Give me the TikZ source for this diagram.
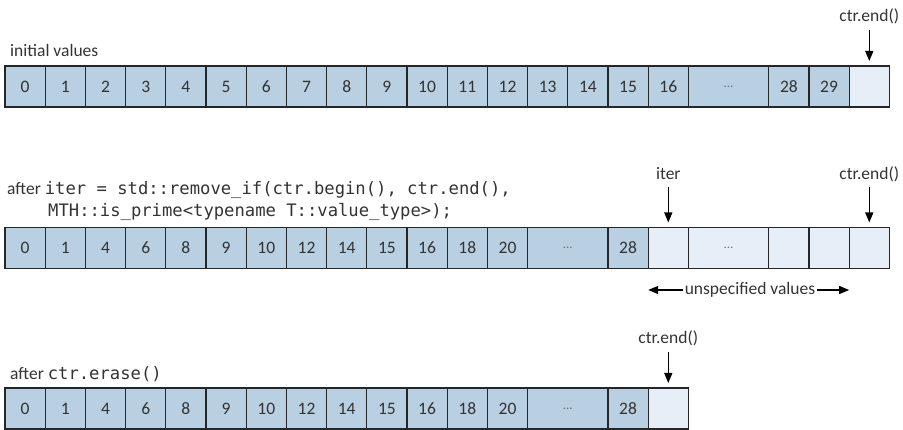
\documentclass[tikz,border=0pt]{standalone}
\usepackage{fontspec}
\setmainfont{Carlito}
\newfontfamily\codefont{DejaVu Sans Mono}
\usetikzlibrary{positioning,arrows.meta}

\definecolor{cellblue}{HTML}{B9CFE2}
\definecolor{cellfree}{HTML}{E6EEF8}
\newcommand\code[1]{{\codefont\fontsize{17.2}{22}\selectfont #1}}
\newcommand\celldots{{\color{black!55}\fontsize{13}{13}\selectfont ...}}

\begin{document}
\begin{tikzpicture}
                [
                x=1pt, y=1pt,
                every node/.style={font=\fontsize{17.5}{22}\selectfont, text=black!80},
                cell/.style={draw=black!85, line width=1.3pt, fill=cellblue, minimum width=40.2pt, minimum height=41pt, inner sep=0pt, outer sep=0pt},
                freecell/.style={cell, fill=cellfree},
                widecell/.style={minimum width=80.4pt},
                lbl/.style={inner sep=0pt, text height=12pt, text depth=4pt},
                pointer/.style={-{Triangle[width=8pt,length=10pt]}, line width=1.3pt, shorten <=4pt, shorten >=5pt}
                ]
                \useasboundingbox (0,0) rectangle (903,430);
                % Row 1: initial values
                \node[lbl, anchor=base west] (initLbl) at (10,373) {initial values};
                \foreach \v [count=\i from 0] in {0,...,16}
                    \node[cell] (a\i) at (25.1+40.2*\i, 343.5) {\v};
                \node[cell, widecell, right=0pt of a16] (a17) {\celldots};
                \node[cell, right=0pt of a17] (a19) {28};
                \node[cell, right=0pt of a19] (a20) {29};
                \node[freecell, right=0pt of a20] (a21) {};
                \node[lbl, above=40pt of a21] (endA) {ctr.end()};
                \draw[pointer] (endA) -- (a21);
                % Row 2: after remove_if
                \node[lbl, anchor=base west] (codeB) at (7,235) {after \code{iter = std::remove\_if(ctr.begin(), ctr.end(),}};
                \node[lbl, anchor=base west] (codeB2) at (48,213) {\code{MTH::is\_prime<typename T::value\_type>);}};
                \foreach \v [count=\i from 0] in {0,1,4,6,8,9,10,12,14,15,16,18,20}
                    \node[cell] (b\i) at (25.1+40.2*\i, 182) {\v};
                \node[cell, widecell, right=0pt of b12] (b13) {\celldots};
                \node[cell, right=0pt of b13] (b15) {28};
                \node[freecell, right=0pt of b15] (b16) {};
                \node[freecell, widecell, right=0pt of b16] (b17) {\celldots};
                \node[freecell, right=0pt of b17] (b19) {};
                \node[freecell, right=0pt of b19] (b20) {};
                \node[freecell, right=0pt of b20] (b21) {};
                \node[lbl, above=44pt of b16] (iterB) {iter};
                \node[lbl, above=44pt of b21] (endB) {ctr.end()};
                \draw[pointer] (iterB) -- (b16);
                \draw[pointer] (endB) -- (b21);
                % unspecified range
                \node[inner sep=2pt] (unspec) at (750,140) {unspecified values};
                \draw[pointer, shorten <=0pt, shorten >=0pt] (unspec.west) -- (unspec.west -| b16.west);
                \draw[pointer, shorten <=0pt, shorten >=0pt] (unspec.east) -- (unspec.east -| b20.east);
                % Row 3: after erase
                \node[lbl, anchor=base west] (eraseC) at (10,50) {after \code{ctr.erase()}};
                \foreach \v [count=\i from 0] in {0,1,4,6,8,9,10,12,14,15,16,18,20}
                    \node[cell] (c\i) at (25.1+40.2*\i, 21.5) {\v};
                \node[cell, widecell, right=0pt of c12] (c13) {\celldots};
                \node[cell, right=0pt of c13] (c15) {28};
                \node[freecell, right=0pt of c15] (c16) {};
                \node[lbl, above=40pt of c16] (endC) {ctr.end()};
                \draw[pointer] (endC) -- (c16);
            \end{tikzpicture}
\end{document}
